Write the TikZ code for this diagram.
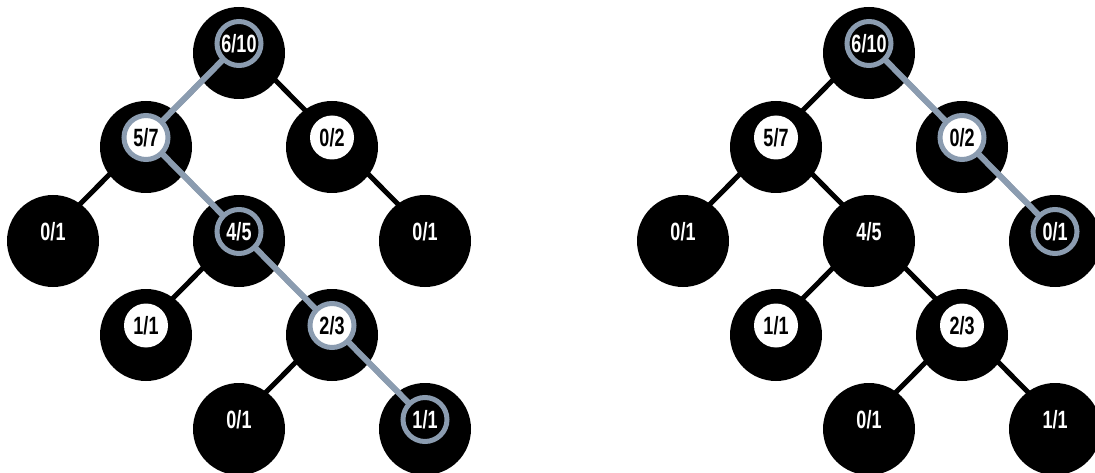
\documentclass[tikz,border=0pt]{standalone}
\usepackage{fontspec}
\newfontfamily\lblfont[FakeStretch=0.72]{Liberation Sans}
\definecolor{pathgrey}{HTML}{8B9CB0}
\begin{document}
\begin{tikzpicture}[x=1pt,y=-1pt,
 big/.style={circle,fill=black,minimum size=92pt,inner sep=0pt},
 lbl/.style={circle,minimum size=44pt,inner sep=0pt,font=\lblfont\bfseries\fontsize{25}{25}\selectfont},
 inw/.style={lbl,fill=white,text=black},
 inb/.style={lbl,fill=black,text=white},
 ring/.style={draw=pathgrey,line width=5pt},
 edge/.style={line width=5pt,black},
 hedge/.style={line width=6pt,pathgrey}]
\useasboundingbox (0,0) rectangle (1095,473);
% inner centres
\foreach \p/\dx in {L/0,R/630}{
 \coordinate (\p a) at (239+\dx,43.5);
 \coordinate (\p b) at (146+\dx,137.5);
 \coordinate (\p c) at (332+\dx,137.5);
 \coordinate (\p d) at (53+\dx,231.5);
 \coordinate (\p e) at (239+\dx,231.5);
 \coordinate (\p f) at (425+\dx,231.5);
 \coordinate (\p g) at (146+\dx,325.5);
 \coordinate (\p h) at (332+\dx,325.5);
 \coordinate (\p i) at (239+\dx,419.5);
 \coordinate (\p j) at (425+\dx,419.5);
}
% black edges
\foreach \p in {L,R}{
 \draw[edge] (\p a) -- (\p b);
 \draw[edge] (\p a) -- (\p c);
 \draw[edge] (\p b) -- (\p d);
 \draw[edge] (\p b) -- (\p e);
 \draw[edge] (\p c) -- (\p f);
 \draw[edge] (\p e) -- (\p g);
 \draw[edge] (\p e) -- (\p h);
 \draw[edge] (\p h) -- (\p i);
 \draw[edge] (\p h) -- (\p j);
}
% big circles
\foreach \p in {L,R}{
 \foreach \n in {a,b,c,d,e,f,g,h,i,j}{
  \node[big] (\p\n-big) at ([yshift=-9.5pt]\p\n) {};
 }
}
% highlighted paths
\draw[hedge] (La) -- (Lb);
\draw[hedge] (Lb) -- (Le);
\draw[hedge] (Le) -- (Lh);
\draw[hedge] (Lh) -- (Lj);
\draw[hedge] (Ra) -- (Rc);
\draw[hedge] (Rc) -- (Rf);
% inner labels, left tree
\node[inb,ring] (La-t) at (La) {6/10};
\node[inw,ring] (Lb-t) at (Lb) {5/7};
\node[inw] (Lc-t) at (Lc) {0/2};
\node[inb] (Ld-t) at (Ld) {0/1};
\node[inb,ring] (Le-t) at (Le) {4/5};
\node[inb] (Lf-t) at (Lf) {0/1};
\node[inw] (Lg-t) at (Lg) {1/1};
\node[inw,ring] (Lh-t) at (Lh) {2/3};
\node[inb] (Li-t) at (Li) {0/1};
\node[inb,ring] (Lj-t) at (Lj) {1/1};
% inner labels, right tree
\node[inb,ring] (Ra-t) at (Ra) {6/10};
\node[inw] (Rb-t) at (Rb) {5/7};
\node[inw,ring] (Rc-t) at (Rc) {0/2};
\node[inb] (Rd-t) at (Rd) {0/1};
\node[inb] (Re-t) at (Re) {4/5};
\node[inb,ring] (Rf-t) at (Rf) {0/1};
\node[inw] (Rg-t) at (Rg) {1/1};
\node[inw] (Rh-t) at (Rh) {2/3};
\node[inb] (Ri-t) at (Ri) {0/1};
\node[inb] (Rj-t) at (Rj) {1/1};
\end{tikzpicture}
\end{document}
